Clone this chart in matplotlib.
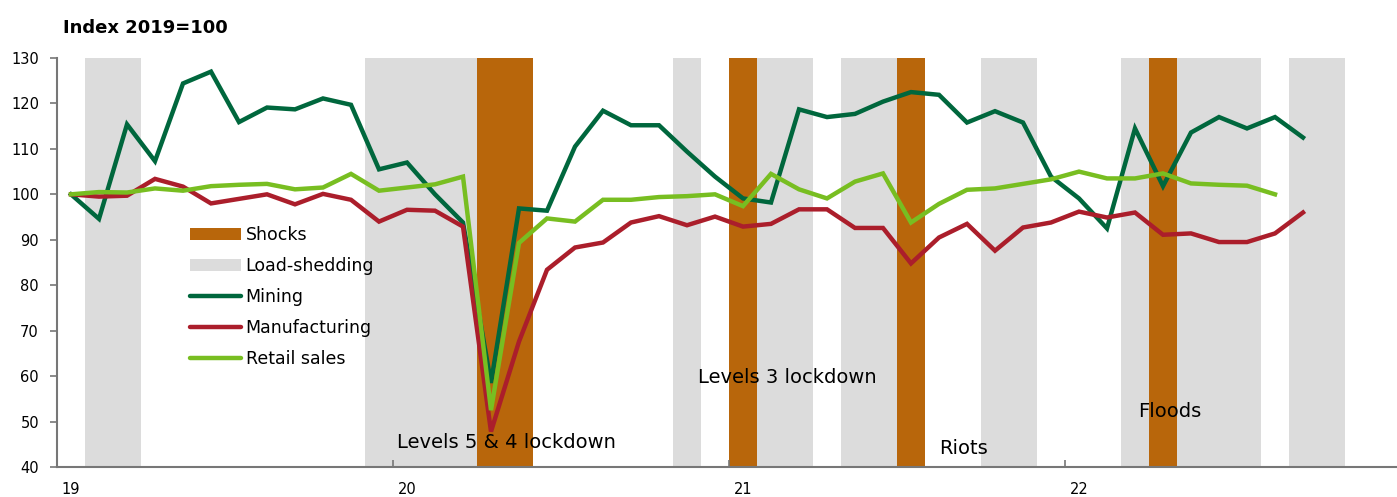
import matplotlib
matplotlib.use('Agg')
import matplotlib.pyplot as plt
from matplotlib.patches import Patch
from matplotlib.lines import Line2D
import numpy as np

plt.rcParams['font.family'] = ['DejaVu Sans']

# monthly index, Jan 2019 onwards (2019=100)
mining = [100.0, 94.6, 115.4, 107.3, 124.4, 127.0, 115.9, 119.1, 118.7, 121.1, 119.7, 105.5,
          107.0, 100.0, 93.8, 58.5, 96.9, 96.4, 110.5, 118.4, 115.2, 115.2, 109.4, 103.9,
          99.1, 98.2, 118.7, 117.0, 117.7, 120.4, 122.5, 121.9, 115.8, 118.3, 115.8, 103.9,
          99.1, 92.5, 114.5, 101.8, 113.6, 117.0, 114.5, 117.0, 112.5]
manufacturing = [100.0, 99.5, 99.7, 103.4, 101.7, 98.0, 99.0, 100.0, 97.8, 100.1, 98.8, 94.0,
                 96.6, 96.4, 92.9, 47.8, 67.6, 83.4, 88.3, 89.4, 93.8, 95.2, 93.2, 95.1,
                 92.9, 93.5, 96.7, 96.7, 92.6, 92.6, 84.8, 90.5, 93.5, 87.6, 92.7, 93.8,
                 96.2, 94.9, 96.0, 91.1, 91.4, 89.5, 89.5, 91.4, 96.0]
retail = [100.0, 100.5, 100.4, 101.3, 100.8, 101.8, 102.1, 102.3, 101.1, 101.5, 104.5, 100.8,
          101.5, 102.2, 103.9, 52.5, 89.3, 94.7, 94.0, 98.8, 98.8, 99.4, 99.6, 100.0,
          97.4, 104.5, 101.1, 99.1, 102.8, 104.6, 93.8, 97.9, 101.0, 101.3, 102.3, 103.3,
          105.0, 103.5, 103.5, 104.6, 102.4, 102.1, 101.9, 100.0]

# periods in months since Jan 2019 (start, end)
load_shedding = [(1, 3), (11, 15), (22, 23), (25, 27), (28, 30), (33, 35), (38, 39), (40, 43), (44, 46)]
shocks = [(15, 17), (24, 25), (30, 31), (39, 40)]
year_labels = ['19', '20', '21', '22']

notes = [('Levels 5 & 4 lockdown', 12.15, 45.3),
         ('Levels 3 lockdown', 22.9, 59.6),
         ('Riots', 31.5, 44.0),
         ('Floods', 38.6, 52.3)]

c_mining = '#00673D'
c_manu = '#AB1E2B'
c_retail = '#78BE21'
c_shock = '#B8660B'
c_grey = '#DCDCDC'

fig = plt.figure(figsize=(13.97, 4.97), dpi=100)
ax = fig.add_axes([57 / 1397, 1 - 467 / 497, 1344 / 1397, 409 / 497])

for s, e in load_shedding:
    ax.axvspan(s, e, color=c_grey, lw=0, zorder=1)
for s, e in shocks:
    ax.axvspan(s, e, color=c_shock, lw=0, zorder=1)

ax.plot(np.arange(len(mining)) + 0.5, mining, color=c_mining, lw=3.2, zorder=3, solid_joinstyle='miter')
ax.plot(np.arange(len(manufacturing)) + 0.5, manufacturing, color=c_manu, lw=3.2, zorder=3, solid_joinstyle='miter')
ax.plot(np.arange(len(retail)) + 0.5, retail, color=c_retail, lw=3.2, zorder=4, solid_joinstyle='miter')

for txt, x, y in notes:
    ax.text(x, y, txt, fontsize=14, ha='left', va='center', color='black', zorder=5)

ax.set_xlim(0, 48)
ax.set_ylim(40, 130)
ax.set_yticks(np.arange(40, 131, 10))

ax.set_xticks([0, 12, 24, 36])
ax.set_xticklabels([])
ax.set_xticks([0.5, 12.5, 24.5, 36.5], minor=True)
ax.set_xticklabels(year_labels, minor=True)
ax.tick_params(axis='x', which='major', direction='in', length=5, color='#777777', width=1.2)
ax.tick_params(axis='x', which='minor', length=0, pad=11, labelsize=10.5)
ax.tick_params(axis='y', direction='out', length=5, color='#777777', width=1.2, labelsize=10.5, pad=8)

for sp in ['top', 'right']:
    ax.spines[sp].set_visible(False)
for sp in ['left', 'bottom']:
    ax.spines[sp].set_color('#777777')
    ax.spines[sp].set_linewidth(1.5)

fig.text(63 / 1397, 1 - 28 / 497, 'Index 2019=100', fontsize=13, fontweight='bold', ha='left', va='center')

handles = [Patch(facecolor=c_shock, edgecolor='none'),
           Patch(facecolor=c_grey, edgecolor='none'),
           Line2D([], [], color=c_mining, lw=3.2, solid_capstyle='round'),
           Line2D([], [], color=c_manu, lw=3.2, solid_capstyle='round'),
           Line2D([], [], color=c_retail, lw=3.2, solid_capstyle='round')]
labels = ['Shocks', 'Load-shedding', 'Mining', 'Manufacturing', 'Retail sales']
leg = ax.legend(handles, labels, loc='upper left', bbox_to_anchor=(190 / 1397, 1 - 226 / 497),
                bbox_transform=fig.transFigure, frameon=False, fontsize=12.5, handlelength=2.95,
                handleheight=0.65, handletextpad=0.25, labelspacing=0.75, borderpad=0, borderaxespad=0)

fig.savefig('out.png', dpi=100)
